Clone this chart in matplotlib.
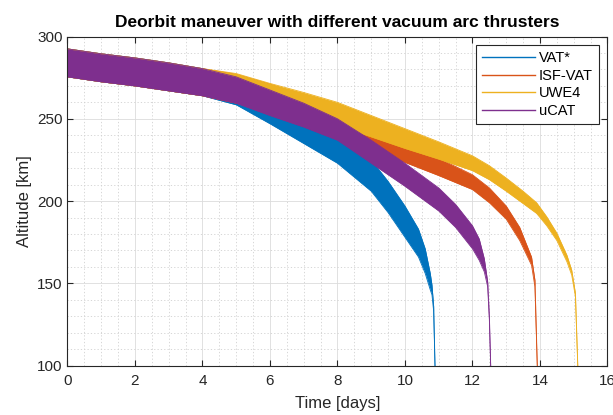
import numpy as np
import matplotlib
matplotlib.use("Agg")
import matplotlib.pyplot as plt
from matplotlib.lines import Line2D
from matplotlib.ticker import MultipleLocator

plt.rcParams['font.family'] = ['Liberation Sans', 'DejaVu Sans']

# envelope of the orbit oscillation (upper / lower altitude, km)
vat_t = [0, 1, 2, 3, 4, 5, 6, 7, 8, 9, 9.5, 10, 10.4, 10.6, 10.75, 10.8, 10.85, 10.89]
vat_hi = [292.5, 289.5, 287, 284, 280.5, 275.5, 266, 255, 242, 225, 212, 197, 183, 171, 156, 149, 136, 100]
vat_lo = [275.5, 272.5, 270, 267, 264, 258.5, 247, 235, 223, 206, 193, 178, 166, 156, 146, 143, 133, 100]

isf_t = [0, 1, 2, 3, 4, 5, 6, 7, 8, 9, 10, 11, 12, 12.5, 13, 13.4, 13.75, 13.85, 13.92]
isf_hi = [292.5, 289.5, 287, 284, 280.5, 277, 271, 264.5, 256, 246, 236, 226, 216, 208, 197, 184, 166, 152, 100]
isf_lo = [275.5, 272.5, 270, 267, 264, 259.5, 254, 248, 240, 231, 223.5, 215.5, 207, 199, 189, 176, 161, 148, 100]

uwe_t = [0, 1, 2, 3, 4, 5, 6, 7, 8, 9, 10, 11, 12, 12.5, 13, 13.5, 13.9, 14.2, 14.5, 14.8, 14.94, 15.05, 15.12]
uwe_hi = [292.5, 289.5, 287, 284, 280.5, 277.5, 271.5, 266, 260, 252, 244, 236, 227.5, 221.5, 214, 206, 199, 190.5, 180.5, 167, 158, 144, 100]
uwe_lo = [275.5, 272.5, 270, 267, 264, 260, 256, 252, 246, 239, 232, 225.5, 218.5, 213, 206, 198.5, 192.5, 185, 176, 163, 155, 142, 100]

ucat_t = [0, 1, 2, 3, 4, 5, 6, 7, 8, 9, 10, 11, 11.5, 12, 12.2, 12.35, 12.45, 12.5, 12.54]
ucat_hi = [292.5, 289.5, 287, 284, 280.5, 275.5, 267.5, 259.5, 250, 237, 223, 208, 198, 185, 177, 165, 151, 130, 100]
ucat_lo = [275.5, 272.5, 270, 267, 264, 259.5, 252, 245, 237, 223, 209, 194, 184, 171, 164, 157, 148, 128, 100]

names = ['VAT*', 'ISF-VAT', 'UWE4', 'uCAT']
colors = ['#0072BD', '#D95319', '#EDB120', '#7E2F8E']
series = [(vat_t, vat_hi, vat_lo), (isf_t, isf_hi, isf_lo),
          (uwe_t, uwe_hi, uwe_lo), (ucat_t, ucat_hi, ucat_lo)]

fig = plt.figure(figsize=(6.13, 4.15), dpi=100)
ax = fig.add_axes([0.110, 0.119, 0.881, 0.793])

for i, ((t, hi, lo), c) in enumerate(zip(series, colors)):
    z = 3 + i
    ax.fill_between(t, lo, hi, color=c, lw=0, zorder=z)
    ax.plot(t, hi, color=c, lw=0.6, zorder=z)
    ax.plot(t, lo, color=c, lw=0.6, zorder=z)

ax.set_xlim(0, 16)
ax.set_ylim(100, 300)
ax.xaxis.set_major_locator(MultipleLocator(2))
ax.xaxis.set_minor_locator(MultipleLocator(0.5))
ax.yaxis.set_major_locator(MultipleLocator(50))
ax.yaxis.set_minor_locator(MultipleLocator(10))

ax.grid(which='major', color='#dcdcdc', lw=0.6)
ax.grid(which='minor', color='#d0d0d0', lw=0.6, ls=(0, (1.5, 2.5)))
ax.set_axisbelow(True)

ax.tick_params(which='both', direction='in', top=True, right=True,
               colors='#262626', labelsize=11)
ax.tick_params(which='minor', length=0)
ax.tick_params(which='major', length=4)
ax.tick_params(axis='x', pad=6)
for s in ax.spines.values():
    s.set_color('#262626')
    s.set_linewidth(0.8)
    s.set_zorder(10)

ax.set_xlabel('Time [days]', fontsize=12, color='#262626', labelpad=6)
ax.set_ylabel('Altitude [km]', fontsize=12, color='#262626', labelpad=4)
ax.set_title('Deorbit maneuver with different vacuum arc thrusters',
             fontsize=12.5, fontweight='bold', pad=7)

handles = [Line2D([], [], color=c, lw=1) for c in colors]
leg = ax.legend(handles, names, loc='upper right', fontsize=10.5,
                frameon=True, fancybox=False, handlelength=3.6,
                borderaxespad=0.6, labelspacing=0.25, handletextpad=0.3)
leg.get_frame().set_edgecolor('#262626')
leg.get_frame().set_linewidth(0.8)
leg.get_frame().set_alpha(1)
leg.set_zorder(20)

fig.savefig('out.png', dpi=100, facecolor='white')
